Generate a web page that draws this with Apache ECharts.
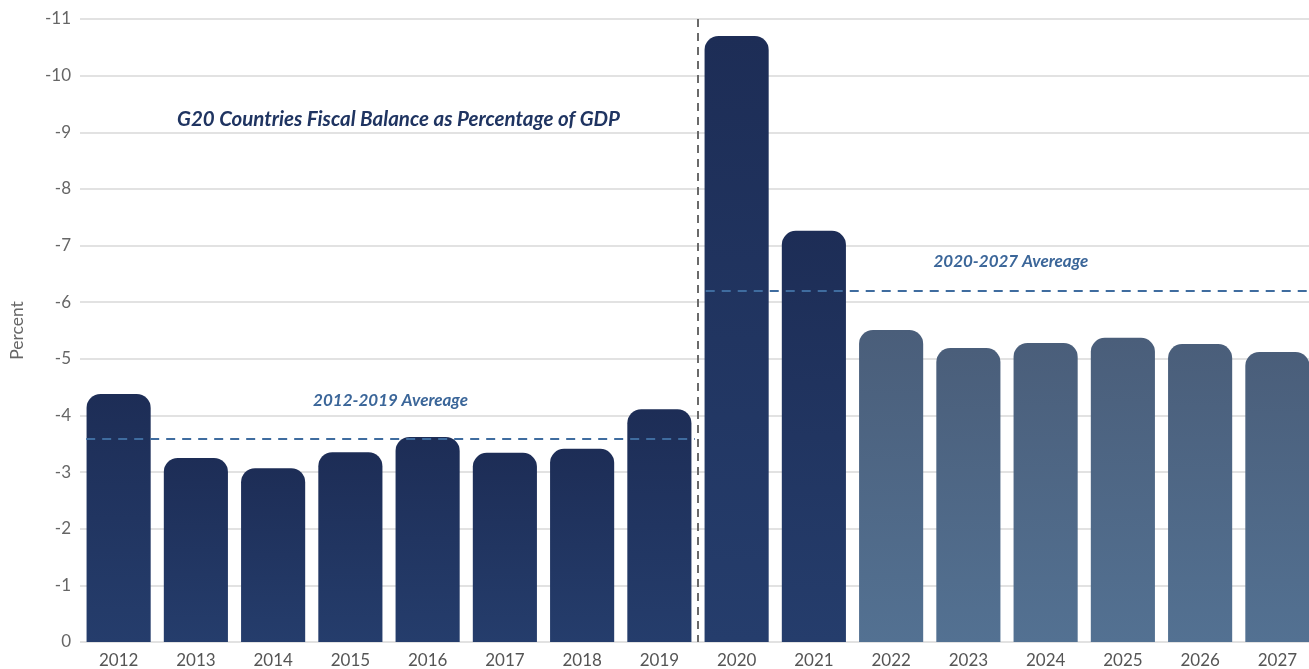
<!DOCTYPE html>
<html>
<head>
<meta charset="utf-8">
<script src="https://cdn.jsdelivr.net/npm/echarts@6/dist/echarts.min.js"></script>
<style>
html,body{margin:0;padding:0;background:#fff;overflow:hidden;width:1309px;height:669px;}
#chart{width:1316px;height:669px;}
</style>
</head>
<body>
<div id="chart"></div>
<script>
// ---- data ----
const years = ['2012','2013','2014','2015','2016','2017','2018','2019','2020','2021','2022','2023','2024','2025','2026','2027'];
const balance = [-4.38,-3.25,-3.07,-3.35,-3.62,-3.34,-3.41,-4.11,-10.70,-7.26,-5.51,-5.19,-5.28,-5.37,-5.26,-5.12];
const projectedFrom = '2022';
const yTicks = [-11,0];
const avgLabels = ['2012-2019 Avereage','2020-2027 Avereage'];
const avgValues = [-3.58,-6.21];
const avgSpans = [[0.08,7.96],[8.1,16]];
const dividerAt = 8;
const titleText = 'G20 Countries Fiscal Balance as Percentage of GDP';

const chart = echarts.init(document.getElementById('chart'), null, {renderer:'canvas'});
const FONT = 'Lato';
const darkGrad = new echarts.graphic.LinearGradient(0,0,0,1,[{offset:0,color:'#1d2d56'},{offset:1,color:'#253d6c'}]);
const lightGrad = new echarts.graphic.LinearGradient(0,0,0,1,[{offset:0,color:'#4a5e7a'},{offset:1,color:'#537192'}]);
const projIdx = years.indexOf(projectedFrom);

const labelDist = [30,20];
const avgLines = avgValues.map((v,i)=>[
  {coord:[avgSpans[i][0], v], label:{show:true, position:'middle', formatter:avgLabels[i], distance:labelDist[i],
    color:'#3b6699', fontFamily:FONT, fontStyle:'italic', fontWeight:'bold', fontSize:17}},
  {coord:[avgSpans[i][1], v]}
]);

chart.setOption({
  animation:false,
  title:{text:titleText, left:172, top:104,
    textStyle:{color:'#1f3461', fontFamily:FONT, fontStyle:'italic', fontWeight:'bold', fontSize:20.5}},
  grid:{left:79, right:0, top:19, bottom:27, containLabel:false},
  xAxis:[
    {type:'category', data:years, axisLine:{show:false}, axisTick:{show:false},
     axisLabel:{color:'#555', fontFamily:FONT, fontSize:17, margin:10}},
    {type:'value', min:0, max:16, show:false, gridIndex:0}
  ],
  yAxis:{type:'value', inverse:true, min:yTicks[0], max:yTicks[1], interval:1,
    name:'Percent', nameLocation:'middle', nameGap:54, nameRotate:90,
    nameTextStyle:{color:'#666', fontFamily:FONT, fontSize:17.5},
    axisLine:{show:false}, axisTick:{show:false},
    axisLabel:{color:'#666', fontFamily:FONT, fontSize:17, margin:9},
    splitLine:{lineStyle:{color:'#e2e2e2', width:2}}},
  series:[
    {type:'bar', xAxisIndex:0, barCategoryGap:'17%',
     data:balance.map((v,i)=>({value:v, itemStyle:{color: i>=projIdx ? lightGrad : darkGrad}})),
     itemStyle:{borderRadius:[14,14,0,0]}},
    {type:'line', xAxisIndex:1, data:[], silent:true,
     markLine:{symbol:'none', silent:true,
       lineStyle:{type:[9,7], color:'#3f6c9f', width:2},
       data: avgLines.concat([{xAxis:dividerAt, label:{show:false},
         lineStyle:{type:[8,6], color:'#6a6a6a', width:2}}])}}
  ]
});
</script>
</body>
</html>
